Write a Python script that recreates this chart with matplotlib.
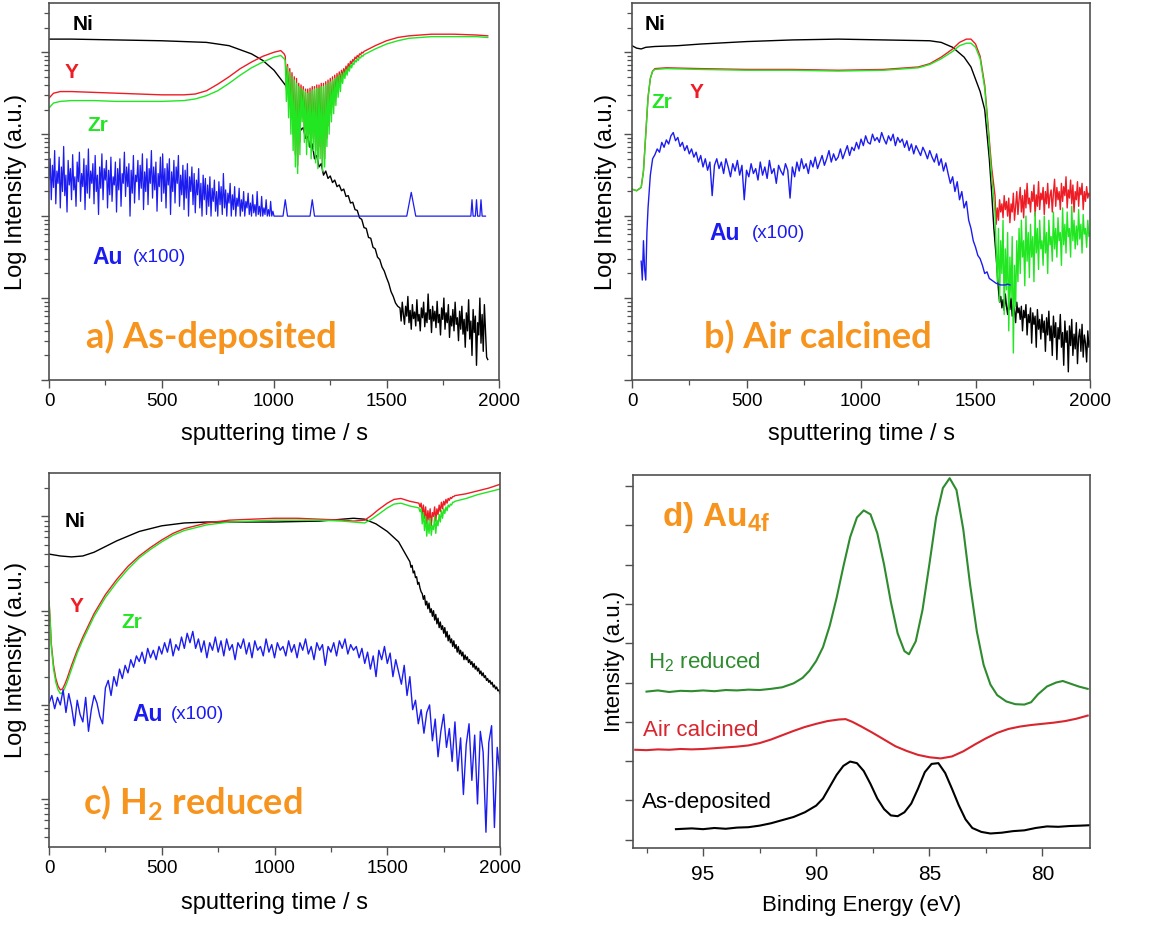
import numpy as np
import matplotlib.pyplot as plt
from matplotlib.ticker import NullFormatter, MultipleLocator

plt.rcParams['font.family'] = ['Liberation Sans', 'DejaVu Sans']

RED = '#ee1c24'
GREEN = '#22e622'
BLUE = '#1c1cf0'
ORANGE = '#f7941d'
FRAME = '#505050'

# ---------------- a) As-deposited (log10 of intensity) ----------------
ni_a_t = [0, 100, 300, 500, 700, 800, 900, 950, 1000, 1050]
ni_a = [4.16, 4.16, 4.15, 4.14, 4.12, 4.08, 3.98, 3.90, 3.78, 3.60]
ni_a_drop = [3.56, 3.50, 3.38, 3.34, 3.20, 3.16, 3.05, 3.08, 2.95, 2.97,
             2.84, 2.88, 2.70, 2.74, 2.60, 2.64, 2.50, 2.55, 2.46, 2.49,
             2.41, 2.44, 2.36, 2.38, 2.31, 2.33, 2.24, 2.25, 2.16, 2.17,
             2.08, 2.07, 1.98, 1.96, 1.86, 1.85, 1.74, 1.73, 1.62, 1.60,
             1.50, 1.47, 1.38, 1.33, 1.25, 1.18, 1.08, 1.02, 0.94, 0.90]
ni_a_tail = [0.88, 0.72, 0.95, 0.80, 0.68, 0.90, 0.78, 1.02, 0.70, 0.85,
             0.62, 0.92, 0.75, 0.83, 0.66, 0.98, 0.72, 0.80, 0.60, 0.88,
             0.76, 0.95, 0.65, 0.82, 0.70, 1.05, 0.74, 0.86, 0.58, 0.90,
             0.72, 0.84, 0.64, 0.96, 0.70, 0.80, 0.55, 0.88, 0.74, 1.00,
             0.62, 0.82, 0.70, 0.92, 0.52, 0.78, 0.66, 0.86, 0.60, 0.95,
             0.68, 0.76, 0.48, 0.84, 0.62, 0.90, 0.56, 0.74, 0.40, 0.82,
             0.60, 0.98, 0.50, 0.72, 0.30, 0.86, 0.58, 0.78, 0.18, 0.70,
             0.55, 1.00, 0.45, 0.80, 0.35, 0.92, 0.60, 0.28, 0.25]

yz_a_t = [0, 20, 50, 100, 200, 300, 400, 500, 600, 650, 700, 750, 800,
          850, 900, 950, 1000, 1030, 1045]
y_a = [3.44, 3.50, 3.52, 3.52, 3.51, 3.50, 3.49, 3.48, 3.48, 3.49, 3.53,
       3.61, 3.70, 3.80, 3.88, 3.95, 4.00, 4.02, 3.98]
zr_a = [3.32, 3.38, 3.40, 3.41, 3.41, 3.40, 3.40, 3.40, 3.41, 3.43, 3.47,
        3.53, 3.62, 3.72, 3.81, 3.88, 3.94, 3.96, 3.92]
y_a_dip = [3.95, 3.55, 3.85, 3.40, 3.80, 3.20, 3.75, 3.00, 3.70, 2.75,
           3.68, 2.62, 3.62, 2.90, 3.60, 3.30, 3.58, 3.05, 3.55, 2.90,
           3.55, 3.00, 3.56, 2.85, 3.58, 2.95, 3.58, 2.80, 3.60, 2.72,
           3.60, 2.85, 3.62, 2.65, 3.62, 2.70, 3.64, 2.95, 3.66, 3.10,
           3.68, 3.25, 3.70, 3.35, 3.72, 3.45, 3.74, 3.55, 3.76, 3.62,
           3.78, 3.70, 3.80, 3.74, 3.83, 3.78, 3.86, 3.82, 3.89, 3.86,
           3.91, 3.89, 3.94, 3.92, 3.96, 3.94, 3.98, 3.97, 4.00, 3.99, 4.01]
zr_a_dip = [3.90, 3.40, 3.82, 3.20, 3.76, 3.00, 3.70, 2.80, 3.66, 2.60,
            3.62, 2.52, 3.58, 2.75, 3.56, 3.15, 3.54, 2.90, 3.52, 2.75,
            3.50, 2.85, 3.52, 2.70, 3.54, 2.80, 3.55, 2.65, 3.56, 2.58,
            3.56, 2.70, 3.58, 2.55, 3.58, 2.60, 3.60, 2.85, 3.62, 3.00,
            3.64, 3.15, 3.66, 3.25, 3.68, 3.35, 3.70, 3.45, 3.72, 3.52,
            3.74, 3.62, 3.76, 3.68, 3.79, 3.72, 3.82, 3.77, 3.85, 3.81,
            3.87, 3.85, 3.90, 3.88, 3.92, 3.90, 3.94, 3.93, 3.96, 3.95, 3.97]
rec_a_t = [1450, 1500, 1550, 1600, 1650, 1700, 1800, 1900, 1950]
y_a_rec = [4.08, 4.14, 4.18, 4.20, 4.21, 4.22, 4.22, 4.21, 4.20]
zr_a_rec = [4.04, 4.10, 4.14, 4.17, 4.18, 4.19, 4.19, 4.19, 4.18]

au_a_noise = [2.45, 2.70, 2.20, 2.62, 2.35, 2.80, 2.15, 2.55, 2.40, 2.72,
              2.10, 2.60, 2.30, 2.85, 2.25, 2.50, 2.05, 2.68, 2.38, 2.58,
              2.20, 2.75, 2.32, 2.48, 2.12, 2.66, 2.42, 2.78, 2.18, 2.52,
              2.36, 2.70, 2.08, 2.62, 2.28, 2.82, 2.22, 2.55, 2.40, 2.64,
              2.15, 2.74, 2.30, 2.50, 2.02, 2.60, 2.34, 2.76, 2.20, 2.58,
              2.44, 2.68, 2.10, 2.56, 2.26, 2.72, 2.18, 2.48, 2.38, 2.66,
              2.05, 2.58, 2.32, 2.70, 2.12, 2.52, 2.40, 2.78, 2.24, 2.60,
              2.36, 2.64, 2.00, 2.56, 2.28, 2.74, 2.16, 2.50, 2.42, 2.68,
              2.20, 2.62, 2.34, 2.76, 2.08, 2.54, 2.30, 2.70, 2.14, 2.58,
              2.40, 2.80, 2.22, 2.60, 2.32, 2.66, 2.06, 2.52, 2.36, 2.72,
              2.18, 2.76, 2.28, 2.58, 2.10, 2.64, 2.38, 2.70, 2.02, 2.54,
              2.30, 2.68, 2.16, 2.60, 2.40, 2.74, 2.12, 2.50, 2.26, 2.62,
              2.08, 2.56, 2.22, 2.64, 2.00, 2.48, 2.30, 2.60, 2.14, 2.52,
              2.04, 2.44, 2.26, 2.58, 2.10, 2.40, 2.00, 2.50, 2.20, 2.46,
              2.02, 2.38, 2.12, 2.48, 2.00, 2.34, 2.18, 2.44, 2.06, 2.30,
              2.00, 2.42, 2.14, 2.36, 2.02, 2.52, 2.10, 2.32, 2.00, 2.28,
              2.16, 2.40, 2.00, 2.26, 2.08, 2.36, 2.00, 2.22, 2.12, 2.34,
              2.00, 2.20, 2.06, 2.30, 2.00, 2.18, 2.10, 2.28, 2.02, 2.16,
              2.00, 2.26, 2.04, 2.14, 2.00, 2.30, 2.02, 2.12, 2.00, 2.24,
              2.00, 2.10, 2.02, 2.20, 2.00, 2.08, 2.00, 2.18, 2.00, 2.06, 2.00]
au_a_t = [1010, 1040, 1050, 1060, 1160, 1170, 1180, 1590, 1610, 1630, 1875,
          1880, 1885, 1895, 1900, 1905, 1915, 1920, 1925, 1940]
au_a = [2.0, 2.0, 2.2, 2.0, 2.0, 2.2, 2.0, 2.0, 2.29, 2.0, 2.0, 2.2, 2.0,
        2.0, 2.2, 2.0, 2.0, 2.2, 2.0, 2.0]

# ---------------- b) Air calcined ----------------
ni_b_t = [0, 20, 40, 60, 100, 200, 300, 500, 700, 900, 1100, 1300, 1350,
          1400, 1450, 1480, 1500, 1520, 1540, 1560, 1570, 1580, 1590]
ni_b = [4.08, 4.05, 4.04, 4.06, 4.07, 4.08, 4.10, 4.13, 4.15, 4.16, 4.15,
        4.14, 4.12, 4.06, 3.94, 3.82, 3.67, 3.52, 3.30, 2.70, 2.30, 1.85, 1.50]
ni_b_tail = [1.10, 0.95, 1.02, 0.88, 0.98, 0.85, 1.05, 0.90, 0.80, 0.96,
             0.86, 1.00, 0.78, 0.92, 0.84, 0.70, 0.95, 0.82, 0.88, 0.74,
             0.90, 0.60, 0.85, 0.76, 0.92, 0.55, 0.80, 0.70, 0.88, 0.45,
             0.82, 0.68, 0.78, 0.40, 0.86, 0.62, 0.74, 0.50, 0.80, 0.58,
             0.72, 0.35, 0.76, 0.55, 0.84, 0.48, 0.66, 0.30, 0.78, 0.52,
             0.70, 0.25, 0.64, 0.50, 0.80, 0.40, 0.58, 0.18, 0.72, 0.46,
             0.60, 0.10, 0.66, 0.42, 0.74, 0.30, 0.56, 0.38, 0.70, 0.20,
             0.52, 0.62, 0.35, 0.68, 0.28, 0.55, 0.45, 0.22, 0.60, 0.40, 0.48]

yz_b_t = [0, 20, 40, 50, 60, 70, 80, 90, 100, 150, 300, 500, 700, 900, 1100,
          1250, 1300, 1350, 1400, 1430, 1460, 1480, 1500, 1520, 1540, 1555,
          1570, 1585]
y_b = [2.33, 2.31, 2.35, 2.55, 3.00, 3.45, 3.68, 3.77, 3.80, 3.81, 3.80,
       3.79, 3.79, 3.78, 3.79, 3.82, 3.86, 3.94, 4.04, 4.12, 4.16, 4.16,
       4.10, 3.95, 3.60, 3.10, 2.60, 2.25]
zr_b = [2.33, 2.31, 2.35, 2.55, 3.00, 3.45, 3.68, 3.77, 3.79, 3.80, 3.79,
        3.78, 3.78, 3.77, 3.78, 3.81, 3.85, 3.92, 4.01, 4.08, 4.11, 4.11,
        4.06, 3.92, 3.56, 3.05, 2.50, 2.05]
y_b_tail = [1.90, 2.10, 1.95, 2.20, 2.05, 2.15, 1.98, 2.25, 2.08, 2.18,
            2.00, 2.22, 1.92, 2.15, 2.05, 2.28, 1.95, 2.12, 2.30, 2.02,
            2.20, 2.35, 2.05, 2.25, 1.98, 2.32, 2.10, 2.40, 2.15, 2.22,
            2.05, 2.30, 2.18, 2.38, 2.00, 2.26, 2.12, 2.42, 2.08, 2.28,
            2.20, 2.35, 2.02, 2.30, 2.15, 2.40, 2.10, 2.25, 2.32, 2.05,
            2.28, 2.45, 2.12, 2.35, 2.20, 2.30, 2.08, 2.40, 2.18, 2.36,
            2.25, 2.48, 2.10, 2.32, 2.22, 2.44, 2.15, 2.38, 2.05, 2.30,
            2.20, 2.42, 2.12, 2.35, 2.26, 2.40, 2.08, 2.30, 2.18, 2.36,
            2.22, 2.28, 2.25]
zr_b_tail = [1.60, 1.20, 1.85, 0.95, 1.70, 1.30, 1.95, 0.80, 1.60, 1.10,
             1.80, 0.60, 1.50, 1.00, 1.75, 0.33, 1.40, 0.90, 1.70, 1.20,
             1.85, 1.30, 1.95, 1.50, 1.70, 1.15, 2.00, 1.45, 1.80, 1.25,
             1.90, 1.50, 1.75, 1.20, 2.05, 1.55, 1.85, 1.35, 1.95, 1.60,
             1.70, 1.40, 2.00, 1.55, 1.80, 1.30, 1.95, 1.65, 1.75, 1.45,
             2.05, 1.60, 1.85, 1.50, 1.98, 1.70, 1.80, 1.40, 2.10, 1.65,
             1.90, 1.55, 2.05, 1.75, 1.85, 1.50, 2.12, 1.70, 1.95, 1.60,
             1.88, 1.65, 2.08, 1.72, 1.90, 1.55, 2.02, 1.78, 1.85, 1.62,
             1.95, 1.75, 1.80]

au_b_t = [40, 45, 50, 55, 60, 65, 70]
au_b = [1.45, 1.22, 1.70, 1.35, 1.22, 1.80, 2.10]
au_b_noise = [2.50, 2.70, 2.75, 2.82, 2.78, 2.90, 2.84, 2.93, 2.88, 2.98,
              3.02, 2.92, 2.96, 2.85, 2.90, 2.80, 2.86, 2.76, 2.82, 2.72,
              2.78, 2.66, 2.74, 2.60, 2.70, 2.56, 2.66, 2.25, 2.62, 2.70,
              2.58, 2.66, 2.52, 2.70, 2.60, 2.48, 2.64, 2.55, 2.68, 2.50,
              2.62, 2.20, 2.56, 2.48, 2.64, 2.52, 2.58, 2.44, 2.66, 2.50,
              2.60, 2.46, 2.68, 2.52, 2.58, 2.40, 2.62, 2.55, 2.50, 2.64,
              2.56, 2.22, 2.60, 2.48, 2.66, 2.55, 2.70, 2.58, 2.64, 2.52,
              2.68, 2.60, 2.72, 2.58, 2.66, 2.74, 2.62, 2.70, 2.80, 2.66,
              2.76, 2.68, 2.72, 2.82, 2.70, 2.78, 2.86, 2.74, 2.84, 2.80,
              2.90, 2.82, 2.94, 2.86, 2.98, 2.90, 2.88, 3.00, 2.92, 2.96,
              2.90, 3.02, 2.94, 2.88, 2.98, 2.92, 3.00, 2.86, 2.96, 2.90,
              2.94, 2.84, 2.92, 2.80, 2.88, 2.76, 2.86, 2.80, 2.74, 2.84,
              2.78, 2.70, 2.80, 2.72, 2.66, 2.76, 2.62, 2.70, 2.55, 2.65,
              2.52, 2.40, 2.48, 2.30, 2.42, 2.20, 2.30, 2.10, 2.18, 1.95,
              1.85, 1.70, 1.62, 1.52, 1.48, 1.40, 1.30, 1.32, 1.24, 1.22,
              1.20, 1.18, 1.17, 1.16, 1.16, 1.16, 1.17, 1.16]

# ---------------- c) H2 reduced ----------------
ni_c_t = [0, 50, 100, 150, 200, 250, 300, 400, 500, 600, 700, 800, 1000,
          1200, 1300, 1350, 1400, 1450, 1500, 1550, 1595]
ni_c = [3.60, 3.58, 3.57, 3.58, 3.62, 3.68, 3.74, 3.84, 3.90, 3.93, 3.94,
        3.94, 3.94, 3.95, 3.97, 3.98, 3.97, 3.92, 3.84, 3.73, 3.54]
ni_c_tail = [3.52, 3.46, 3.48, 3.40, 3.42, 3.35, 3.36, 3.28, 3.30, 3.24,
             3.20, 3.18, 3.12, 3.16, 3.06, 3.10, 3.02, 3.08, 2.98, 3.02,
             2.94, 3.00, 2.90, 2.96, 2.86, 2.92, 2.82, 2.88, 2.80, 2.84,
             2.76, 2.82, 2.72, 2.78, 2.68, 2.74, 2.66, 2.70, 2.62, 2.68,
             2.60, 2.64, 2.56, 2.62, 2.54, 2.58, 2.52, 2.56, 2.48, 2.53,
             2.48, 2.51, 2.45, 2.48, 2.43, 2.46, 2.40, 2.44, 2.38, 2.41,
             2.36, 2.39, 2.33, 2.36, 2.31, 2.34, 2.29, 2.31, 2.26, 2.28,
             2.24, 2.26, 2.22, 2.24, 2.19, 2.21, 2.17, 2.19, 2.15, 2.16, 2.12]

yz_c_t = [0, 5, 10, 20, 30, 40, 50, 60, 70, 80, 100, 125, 150, 200, 250,
          300, 350, 400, 450, 500, 550, 600, 700, 800, 900, 1000, 1100, 1200,
          1300, 1350, 1400, 1430, 1460, 1500, 1530, 1560, 1600, 1640]
y_c = [3.10, 2.90, 2.65, 2.42, 2.28, 2.20, 2.16, 2.17, 2.22, 2.28, 2.42,
       2.58, 2.72, 2.97, 3.17, 3.33, 3.47, 3.58, 3.67, 3.75, 3.82, 3.87,
       3.93, 3.96, 3.97, 3.98, 3.98, 3.97, 3.96, 3.95, 3.96, 4.01, 4.07,
       4.14, 4.18, 4.19, 4.16, 4.14]
zr_c = [3.10, 2.88, 2.62, 2.38, 2.24, 2.16, 2.12, 2.13, 2.18, 2.24, 2.38,
        2.55, 2.69, 2.94, 3.14, 3.30, 3.44, 3.56, 3.65, 3.73, 3.80, 3.85,
        3.91, 3.94, 3.95, 3.96, 3.96, 3.96, 3.95, 3.94, 3.93, 3.97, 4.02,
        4.09, 4.13, 4.14, 4.11, 4.09]
y_c_dip = [4.10, 4.14, 4.02, 4.12, 3.98, 4.10, 3.92, 4.06, 3.96, 4.08,
           3.90, 4.04, 4.00, 4.10, 3.95, 4.08, 4.02, 4.12, 4.05, 4.15,
           4.08, 4.16, 4.12, 4.18, 4.14, 4.19, 4.17, 4.20, 4.19, 4.21, 4.21, 4.22]
zr_c_dip = [4.05, 4.08, 3.92, 4.04, 3.85, 4.00, 3.79, 3.95, 3.82, 3.98,
            3.80, 3.90, 3.86, 4.00, 3.82, 3.96, 3.90, 4.02, 3.94, 4.06,
            3.98, 4.08, 4.03, 4.10, 4.06, 4.12, 4.10, 4.13, 4.12, 4.15, 4.15, 4.16]
end_c_t = [1850, 1900, 1950, 2000]
y_c_end = [4.24, 4.27, 4.30, 4.34]
zr_c_end = [4.19, 4.23, 4.26, 4.29]

au_c = [2.02, 2.10, 1.96, 2.08, 2.00, 2.16, 1.92, 2.12, 1.98, 1.78,
        2.05, 1.90, 1.82, 2.08, 1.72, 1.95, 2.10, 2.02, 1.88, 1.80,
        2.18, 2.26, 2.10, 2.30, 2.20, 2.38, 2.28, 2.42, 2.34, 2.48,
        2.40, 2.52, 2.46, 2.56, 2.44, 2.60, 2.50, 2.58, 2.48, 2.62,
        2.54, 2.66, 2.56, 2.70, 2.52, 2.64, 2.58, 2.72, 2.60, 2.76,
        2.66, 2.78, 2.60, 2.70, 2.56, 2.68, 2.50, 2.66, 2.58, 2.72,
        2.56, 2.68, 2.52, 2.70, 2.58, 2.64, 2.48, 2.66, 2.60, 2.70,
        2.54, 2.66, 2.50, 2.68, 2.58, 2.62, 2.52, 2.70, 2.56, 2.64,
        2.50, 2.66, 2.58, 2.62, 2.52, 2.68, 2.56, 2.64, 2.50, 2.66,
        2.58, 2.70, 2.54, 2.62, 2.48, 2.66, 2.58, 2.64, 2.42, 2.62,
        2.56, 2.66, 2.52, 2.68, 2.60, 2.70, 2.54, 2.64, 2.58, 2.62,
        2.50, 2.60, 2.44, 2.56, 2.38, 2.52, 2.30, 2.58, 2.48, 2.62,
        2.44, 2.55, 2.30, 2.48, 2.35, 2.22, 2.42, 2.10, 2.30, 1.95,
        2.05, 1.80, 1.95, 1.70, 1.92, 2.00, 1.62, 1.85, 1.45, 1.72,
        1.90, 1.55, 1.75, 1.40, 1.82, 1.30, 1.65, 1.05, 1.58, 1.80,
        1.20, 1.68, 0.95, 1.72, 1.50, 0.65, 1.60, 1.78, 0.70, 1.55, 1.25]

# ---------------- d) Au 4f XPS ----------------
h2_e = [97.5, 97.0, 96.5, 96.0, 95.5, 95.0, 94.5, 94.0, 93.5, 93.0, 92.5,
        92.0, 91.5, 91.0, 90.6, 90.3, 90.0, 89.7, 89.4, 89.1, 88.8, 88.5,
        88.2, 87.9, 87.6, 87.3, 87.0, 86.7, 86.4, 86.1, 85.9, 85.6, 85.3,
        85.0, 84.7, 84.4, 84.1, 83.8, 83.5, 83.2, 82.9, 82.6, 82.3, 82.0,
        81.6, 81.2, 80.8, 80.5, 80.2, 79.8, 79.4, 79.1, 78.8, 78.4, 78.0]
h2_int = [3.77, 3.80, 3.76, 3.79, 3.78, 3.80, 3.78, 3.81, 3.80, 3.82, 3.81,
          3.84, 3.88, 3.98, 4.12, 4.30, 4.55, 4.90, 5.45, 6.15, 6.95, 7.70,
          8.20, 8.38, 8.28, 7.80, 7.00, 6.05, 5.25, 4.80, 4.72, 5.05, 5.85,
          7.00, 8.20, 8.95, 9.20, 8.90, 7.90, 6.50, 5.30, 4.45, 3.95, 3.68,
          3.52, 3.45, 3.44, 3.50, 3.70, 3.90, 4.00, 4.04, 3.98, 3.90, 3.84]
air_e = [98.0, 97.5, 97.0, 96.5, 96.0, 95.5, 95.0, 94.5, 94.0, 93.5, 93.0,
         92.5, 92.0, 91.5, 91.0, 90.5, 90.0, 89.5, 89.0, 88.7, 88.4, 88.0,
         87.5, 87.0, 86.5, 86.0, 85.5, 85.0, 84.5, 84.0, 83.5, 83.0, 82.5,
         82.0, 81.5, 81.0, 80.5, 80.0, 79.5, 79.0, 78.5, 78.0]
air_int = [2.29, 2.28, 2.30, 2.29, 2.31, 2.30, 2.31, 2.33, 2.35, 2.37, 2.40,
           2.46, 2.55, 2.66, 2.77, 2.87, 2.95, 3.02, 3.06, 3.07, 3.00, 2.88,
           2.72, 2.55, 2.38, 2.26, 2.16, 2.10, 2.07, 2.12, 2.25, 2.42, 2.58,
           2.72, 2.82, 2.88, 2.92, 2.95, 2.98, 3.02, 3.08, 3.16]
asd_e = [96.2, 95.5, 95.0, 94.5, 94.0, 93.5, 93.0, 92.5, 92.0, 91.5, 91.0,
         90.5, 90.0, 89.7, 89.4, 89.1, 88.8, 88.5, 88.2, 87.9, 87.6, 87.3,
         87.0, 86.7, 86.4, 86.1, 85.8, 85.5, 85.2, 84.9, 84.6, 84.3, 84.0,
         83.7, 83.4, 83.1, 82.7, 82.3, 81.8, 81.3, 80.8, 80.3, 79.8, 79.3,
         78.8, 78.3, 77.9]
asd_int = [0.27, 0.29, 0.27, 0.30, 0.28, 0.31, 0.32, 0.36, 0.42, 0.50, 0.58,
           0.70, 0.87, 1.05, 1.35, 1.65, 1.88, 1.99, 1.95, 1.75, 1.42, 1.05,
           0.78, 0.62, 0.60, 0.70, 0.92, 1.30, 1.72, 1.93, 1.95, 1.70, 1.30,
           0.88, 0.52, 0.30, 0.20, 0.16, 0.18, 0.22, 0.24, 0.30, 0.34, 0.33,
           0.35, 0.36, 0.37]


def seg(t0, t1, vals):
    # evenly spaced time stamps for a block of read-off samples
    return np.linspace(t0, t1, len(vals))


def p(*parts):
    return 10 ** np.concatenate([np.asarray(x, float) for x in parts])


def style(ax, size):
    for s in ax.spines.values():
        s.set_color(FRAME)
        s.set_linewidth(1.2)
    ax.tick_params(which='major', direction='out', length=6, width=1,
                   color=FRAME, labelsize=size, top=False, right=False, pad=3)
    ax.tick_params(which='minor', direction='out', length=3.5, width=0.9,
                   color=FRAME, top=False, right=False)


def setup_log(ax, ylo, yhi, ypad):
    ax.set_yscale('log')
    ax.set_xlim(0, 2000)
    ax.set_ylim(10 ** ylo, 10 ** yhi)
    ax.set_yticks([10.0 ** d for d in range(0, 5)])
    ax.set_yticks([k * 10.0 ** d for d in range(0, 5) for k in range(2, 10)], minor=True)
    ax.yaxis.set_major_formatter(NullFormatter())
    ax.yaxis.set_minor_formatter(NullFormatter())
    ax.set_ylim(10 ** ylo, 10 ** yhi)
    ax.set_xticks([0, 500, 1000, 1500, 2000])
    ax.xaxis.set_minor_locator(MultipleLocator(250))
    style(ax, 13.5)
    ax.set_xlabel('sputtering time / s', fontsize=17, labelpad=10)
    ax.set_ylabel('Log Intensity (a.u.)', fontsize=17, labelpad=ypad)


def labels(ax, ni, y, zr, au, x100):
    tr = ax.transAxes
    ax.text(*ni, 'Ni', transform=tr, color='black', fontsize=15, fontweight='bold', ha='center', va='center')
    ax.text(*y, 'Y', transform=tr, color=RED, fontsize=15, fontweight='bold', ha='center', va='center')
    ax.text(*zr, 'Zr', transform=tr, color=GREEN, fontsize=15, fontweight='bold', ha='center', va='center')
    ax.text(*au, 'Au', transform=tr, color=BLUE, fontsize=16.5, fontweight='bold', ha='left', va='center')
    ax.text(*x100, '(x100)', transform=tr, color=BLUE, fontsize=13.5, ha='left', va='center')


def title(ax, x, y, s):
    ax.text(x, y, s, transform=ax.transAxes, color=ORANGE, fontsize=26,
            fontweight='bold', family=['Lato', 'DejaVu Sans'], ha='center', va='center')


fig = plt.figure(figsize=(11.73, 9.26), dpi=100)
lw = 1.0

# a)
ax = fig.add_axes([0.0418, 0.5896, 0.3836, 0.4071])
ax.plot(np.concatenate([ni_a_t, seg(1060, 1550, ni_a_drop), seg(1560, 1950, ni_a_tail)]),
        p(ni_a, ni_a_drop, ni_a_tail), color='black', lw=lw)
ax.plot(np.concatenate([yz_a_t, seg(1050, 1400, y_a_dip), rec_a_t]),
        p(y_a, y_a_dip, y_a_rec), color=RED, lw=lw)
ax.plot(np.concatenate([yz_a_t, seg(1050, 1400, zr_a_dip), rec_a_t]),
        p(zr_a, zr_a_dip, zr_a_rec), color=GREEN, lw=lw)
ax.plot(np.concatenate([seg(0, 1000, au_a_noise), au_a_t]),
        p(au_a_noise, au_a), color=BLUE, lw=0.9)
setup_log(ax, 0, 4.6, 7)
labels(ax, (0.076, 0.942), (0.051, 0.817), (0.109, 0.676), (0.096, 0.326), (0.186, 0.326))
title(ax, 0.361, 0.114, 'a) As-deposited')

# b)
ax = fig.add_axes([0.5388, 0.5896, 0.3905, 0.4071])
ax.plot(np.concatenate([ni_b_t, seg(1600, 2000, ni_b_tail)]),
        p(ni_b, ni_b_tail), color='black', lw=lw)
ax.plot(np.concatenate([yz_b_t, seg(1590, 2000, y_b_tail)]),
        p(y_b, y_b_tail), color=RED, lw=lw)
ax.plot(np.concatenate([yz_b_t, seg(1590, 2000, zr_b_tail)]),
        p(zr_b, zr_b_tail), color=GREEN, lw=lw)
ax.plot(np.concatenate([au_b_t, seg(80, 1650, au_b_noise)]),
        p(au_b, au_b_noise), color=BLUE, lw=lw)
setup_log(ax, 0, 4.6, 2)
labels(ax, (0.050, 0.942), (0.142, 0.764), (0.066, 0.735), (0.170, 0.390), (0.262, 0.390))
title(ax, 0.406, 0.114, 'b) Air calcined')

# c)
ax = fig.add_axes([0.0418, 0.0853, 0.3845, 0.4039])
ax.plot(np.concatenate([ni_c_t, seg(1600, 2000, ni_c_tail)]),
        p(ni_c, ni_c_tail), color='black', lw=lw)
ax.plot(np.concatenate([yz_c_t, seg(1645, 1800, y_c_dip), end_c_t]),
        p(y_c, y_c_dip, y_c_end), color=RED, lw=lw)
ax.plot(np.concatenate([yz_c_t, seg(1645, 1800, zr_c_dip), end_c_t]),
        p(zr_c, zr_c_dip, zr_c_end), color=GREEN, lw=lw)
ax.plot(seg(0, 2000, au_c), p(au_c), color=BLUE, lw=lw)
setup_log(ax, 0.493, 4.46, 7)
ax.xaxis.labelpad = 11
labels(ax, (0.058, 0.869), (0.062, 0.642), (0.184, 0.599), (0.186, 0.353), (0.270, 0.353))
title(ax, 0.319, 0.118, 'c) H$_\\mathregular{2}$ reduced')

# d)
ax = fig.add_axes([0.5396, 0.0842, 0.3896, 0.4028])
ax.plot(h2_e, h2_int, color='#2e8b2e', lw=1.5)
ax.plot(air_e, air_int, color='#d9252e', lw=1.5)
ax.plot(asd_e, asd_int, color='black', lw=1.5)
ax.set_xlim(98.1, 77.9)
ax.set_ylim(-0.21, 9.28)
ax.set_xticks([95, 90, 85, 80])
ax.xaxis.set_minor_locator(MultipleLocator(2.5))
ax.set_yticks(np.arange(0, 10))
ax.yaxis.set_major_formatter(NullFormatter())
style(ax, 15)
ax.tick_params(axis='x', which='major', pad=6)
ax.set_xlabel('Binding Energy (eV)', fontsize=16, labelpad=8)
ax.set_ylabel('Intensity (a.u.)', fontsize=16, labelpad=-3)
tr = ax.transAxes
ax.text(0.063, 0.887, 'd) Au$_\\mathregular{4f}$', transform=tr, color=ORANGE, fontsize=24,
        fontweight='bold', ha='left', va='center')
ax.text(0.033, 0.499, 'H$_\\mathregular{2}$ reduced', transform=tr, color='#2e8b2e', fontsize=16,
        ha='left', va='center')
ax.text(0.022, 0.316, 'Air calcined', transform=tr, color='#d9252e', fontsize=16,
        ha='left', va='center')
ax.text(0.020, 0.123, 'As-deposited', transform=tr, color='black', fontsize=16,
        ha='left', va='center')

plt.savefig('out.png', dpi=100)
